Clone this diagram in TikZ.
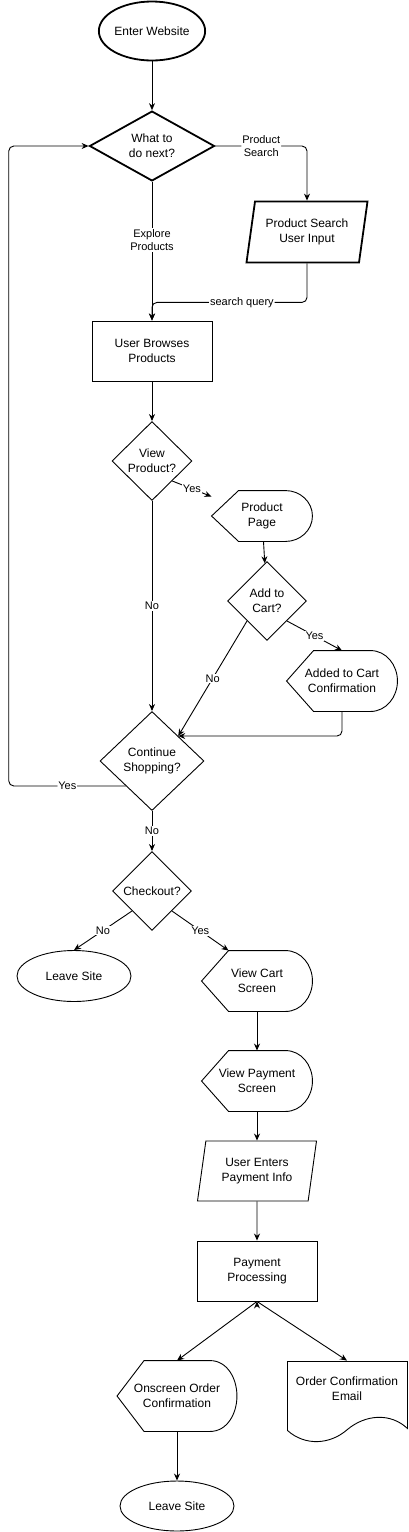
\documentclass[tikz,border=0pt]{standalone}
\usepackage{fontspec}
\setmainfont{Liberation Sans}
\usetikzlibrary{positioning}
\usetikzlibrary{arrows.meta}
\usetikzlibrary{shapes,calc}
\tikzset{base node/.style={draw, align=center, inner sep=0pt, font=\fontsize{12}{15}\selectfont},
  term node/.style={base node, ellipse, minimum width=114pt, minimum height=51pt},
  proc node/.style={base node, rectangle, minimum width=120pt, minimum height=60pt},
  dec node/.style={base node, diamond, minimum width=79pt, minimum height=79pt},
  io node/.style={base node, trapezium, trapezium left angle=72, trapezium right angle=108,
    trapezium stretches body, minimum width=120pt, minimum height=60pt},
  screen node/.style={align=center, inner sep=0pt, font=\fontsize{12}{15}\selectfont,
    minimum width=110pt, minimum height=60pt},
  edge text/.style={fill=white, inner sep=1pt, align=center, font=\fontsize{11}{13.5}\selectfont},}

\begin{document}
\begin{tikzpicture}[->, >={Stealth[length=7pt,width=6pt]}, node distance=1cm, on grid, line width=0.9pt]
	\useasboundingbox (0,0) rectangle (408pt,-1532pt);
	\node[term node, line width=1.8pt, minimum width=100pt, minimum height=59pt] (enter) at (152pt,-31pt) {Enter Website};
	\node[dec node, line width=1.8pt, minimum width=125pt, minimum height=69pt] (next) [below = 115pt of enter] {What to\\do next?};
	\node[io node, line width=1.8pt, minimum width=121pt, minimum height=61pt] (search) [below right = 86pt and 155pt of next] {Product Search\\User Input};
	\node[proc node] (browse) [below = 205pt of next] {User Browses\\Products};
	\node[dec node, minimum width=80pt] (view) [below = 110pt of browse] {View\\Product?};
	\node[screen node, minimum width=100pt, minimum height=50pt] (page) [below right = 55pt and 110pt of view] {Product\\Page};
	\node[dec node] (add) [below right = 85pt and 5pt of page] {Add to\\Cart?};
	\node[screen node] (added) [below right = 80pt and 75pt of add] {Added to Cart\\Confirmation};
	\node[dec node, minimum width=104pt, minimum height=99pt] (cont) [below = 300pt of view] {Continue\\Shopping?};
	\node[dec node] (check) [below = 130pt of cont] {Checkout?};
	\node[term node] (leave1) [below left = 85pt and 78pt of check] {Leave Site};
	\node[screen node] (cart) [below right = 90pt and 105pt of check] {View Cart\\Screen};
	\node[screen node] (pay) [below = 100pt of cart] {View Payment\\Screen};
	\node[io node, minimum width=119pt] (enters) [below = 90pt of pay] {User Enters\\Payment Info};
	\node[proc node] (proc) [below = 100pt of enters] {Payment\\Processing};
	\node[screen node, minimum width=119pt, minimum height=70pt] (onscreen) [below left = 125pt and 80pt of proc] {Onscreen Order\\Confirmation};
	\node[screen node, minimum width=120pt, minimum height=56pt] (email) [below right = 118pt and 90pt of proc] {Order Confirmation\\Email};
	\node[term node, minimum height=50pt] (leave2) [below = 110pt of onscreen] {Leave Site};

	% display shapes
	\foreach \s in {page,added,cart,pay,onscreen}
	  \draw[-] (\s.west) -- ([xshift=27pt]\s.north west) -- ([xshift=-27pt]\s.north east)
	    to[out=0,in=90] (\s.east) to[out=-90,in=0] ([xshift=-27pt]\s.south east)
	    -- ([xshift=27pt]\s.south west) -- cycle;
	% document shape
	\draw[-, shift={(email.south east)}] (0,-11pt) .. controls (-17pt,5pt) and (-42pt,3pt) .. (-60pt,-12pt)
	  .. controls (-77pt,-27pt) and (-102pt,-29pt) .. (-120pt,-13pt) -- (-120pt,56pt) -- (0,56pt) -- cycle;

	\path[draw]
	(enter) edge (next)
	(next) edge node[edge text, pos=0.42] {Explore\\Products} (browse)
	(browse) edge (view)
	(view.south east) edge node[edge text] {Yes} ([yshift=-6pt]page.north west)
	(view) edge node[edge text] {No} (cont)
	(page) edge (add)
	(add.south east) edge node[edge text] {Yes} (added.north)
	(add.south west) edge node[edge text] {No} (cont.north east)
	(cont) edge node[edge text] {No} (check)
	(check.south west) edge node[edge text] {No} (leave1.north)
	(check.south east) edge node[edge text] {Yes} ([xshift=27pt]cart.north west)
	(cart) edge (pay)
	(pay) edge (enters)
	(enters) edge (proc)
	(proc.south) edge (onscreen.north)
	(proc.south) edge (email.north)
	(onscreen) edge (leave2);

	\draw[rounded corners=5pt] (next.east) -| node[edge text, pos=0.25] {Product\\Search} (search.north);
	\draw[rounded corners=5pt] (search.south) -- ++(0,-39pt) -| node[edge text, pos=0.21] {search query} (browse.north);
	\draw[rounded corners=5pt] (added.south) |- (cont.north east);
	\draw[rounded corners=5pt] (cont.south west) -- node[edge text] {Yes} ++(-117pt,0) |- (next.west);
\end{tikzpicture}
\end{document}
